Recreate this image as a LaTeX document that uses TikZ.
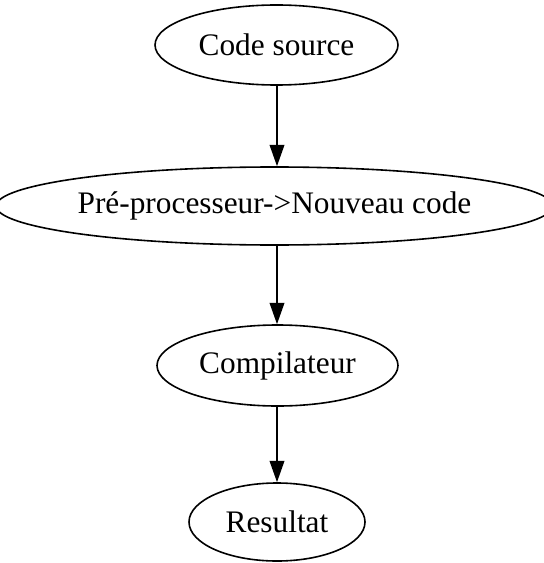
\documentclass[tikz,border=0pt]{standalone}
\usepackage{fontspec}
\setmainfont{Liberation Serif}
\usetikzlibrary{arrows.meta,shapes.geometric}
\begin{document}
\begin{tikzpicture}[x=0.75pt,y=-0.75pt,
  stage/.style={draw=black, line width=1.2pt, ellipse, inner sep=0pt,
    font=\fontsize{23.5pt}{28pt}\selectfont},
  flow/.style={line width=1.2pt, -{Triangle[length=16pt,width=11pt]}}]
  \useasboundingbox (0,0) rectangle (543,563);
  % ellipse sizes are given in pt (0.75pt per picture unit)
  \node[stage, minimum width=182.25pt, minimum height=60pt] (src) at (276.5,45) {Code source};
  \node[stage, minimum width=401.25pt, minimum height=58.5pt] (pre) at (274.5,206) {Pré-processeur->Nouveau code};
  \node[stage, minimum width=180.75pt, minimum height=60.75pt] (comp) at (277.5,365.5) {Compilateur};
  \node[stage, minimum width=132pt, minimum height=58.5pt] (res) at (277,522) {Resultat};
  \coordinate (c) at (277,0);
  \draw[flow] (c |- src.south) -- (c |- pre.north);
  \draw[flow] (c |- pre.south) -- (c |- comp.north);
  \draw[flow] (c |- comp.south) -- (c |- res.north);
\end{tikzpicture}
\end{document}
